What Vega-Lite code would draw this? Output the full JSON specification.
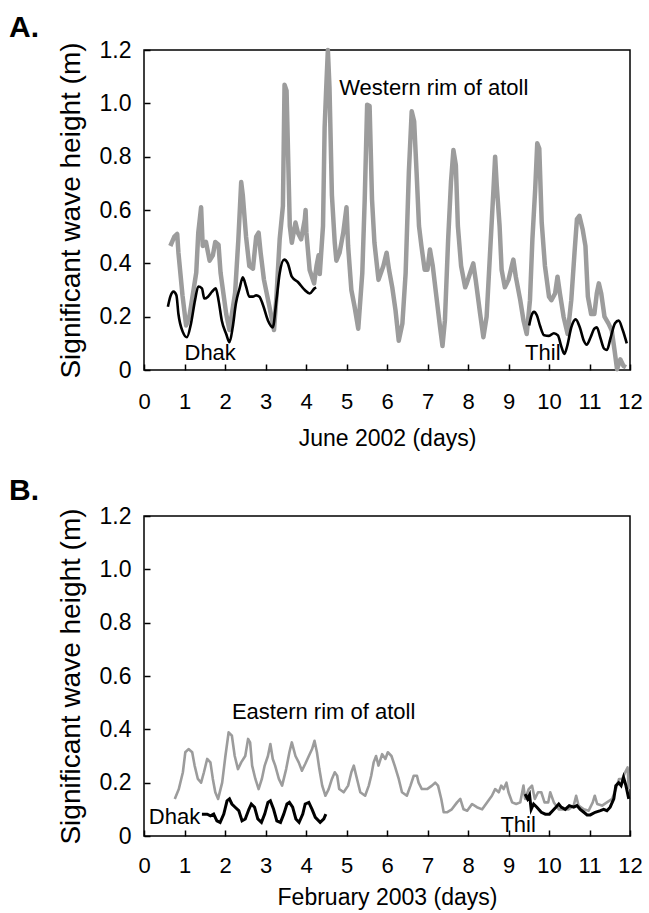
{
  "$schema": "https://vega.github.io/schema/vega-lite/v6.json",
  "background": "white",
  "padding": {"left": 8, "top": 12, "right": 20, "bottom": 0},
  "spacing": 24,
  "datasets": {
    "A": [
      {"s":"west","d":0.65,"h":0.465},{"s":"west","d":0.75,"h":0.50},{"s":"west","d":0.82,"h":0.51},{"s":"west","d":0.85,"h":0.44},{"s":"west","d":0.95,"h":0.28},{"s":"west","d":1.04,"h":0.167},{"s":"west","d":1.12,"h":0.20},{"s":"west","d":1.29,"h":0.365},{"s":"west","d":1.34,"h":0.515},{"s":"west","d":1.41,"h":0.61},{"s":"west","d":1.45,"h":0.465},{"s":"west","d":1.53,"h":0.48},{"s":"west","d":1.62,"h":0.41},{"s":"west","d":1.70,"h":0.43},{"s":"west","d":1.76,"h":0.48},{"s":"west","d":1.84,"h":0.47},{"s":"west","d":1.89,"h":0.365},{"s":"west","d":2.03,"h":0.21},{"s":"west","d":2.11,"h":0.15},{"s":"west","d":2.25,"h":0.29},{"s":"west","d":2.33,"h":0.49},{"s":"west","d":2.40,"h":0.705},{"s":"west","d":2.44,"h":0.655},{"s":"west","d":2.52,"h":0.50},{"s":"west","d":2.60,"h":0.39},{"s":"west","d":2.69,"h":0.38},{"s":"west","d":2.77,"h":0.50},{"s":"west","d":2.83,"h":0.515},{"s":"west","d":2.88,"h":0.44},{"s":"west","d":2.96,"h":0.34},{"s":"west","d":3.10,"h":0.235},{"s":"west","d":3.21,"h":0.15},{"s":"west","d":3.27,"h":0.275},{"s":"west","d":3.35,"h":0.49},{"s":"west","d":3.43,"h":0.615},{"s":"west","d":3.47,"h":1.07},{"s":"west","d":3.52,"h":1.047},{"s":"west","d":3.60,"h":0.54},{"s":"west","d":3.65,"h":0.477},{"s":"west","d":3.74,"h":0.553},{"s":"west","d":3.80,"h":0.515},{"s":"west","d":3.88,"h":0.49},{"s":"west","d":3.97,"h":0.565},{"s":"west","d":3.99,"h":0.60},{"s":"west","d":4.01,"h":0.515},{"s":"west","d":4.09,"h":0.375},{"s":"west","d":4.20,"h":0.325},{"s":"west","d":4.26,"h":0.39},{"s":"west","d":4.31,"h":0.43},{"s":"west","d":4.34,"h":0.36},{"s":"west","d":4.42,"h":0.54},{"s":"west","d":4.46,"h":0.91},{"s":"west","d":4.50,"h":1.06},{"s":"west","d":4.54,"h":1.20},{"s":"west","d":4.58,"h":1.06},{"s":"west","d":4.64,"h":0.655},{"s":"west","d":4.71,"h":0.477},{"s":"west","d":4.75,"h":0.41},{"s":"west","d":4.83,"h":0.44},{"s":"west","d":4.92,"h":0.515},{"s":"west","d":5.00,"h":0.61},{"s":"west","d":5.04,"h":0.465},{"s":"west","d":5.12,"h":0.30},{"s":"west","d":5.20,"h":0.237},{"s":"west","d":5.29,"h":0.155},{"s":"west","d":5.39,"h":0.363},{"s":"west","d":5.45,"h":0.64},{"s":"west","d":5.51,"h":0.995},{"s":"west","d":5.57,"h":0.99},{"s":"west","d":5.63,"h":0.64},{"s":"west","d":5.69,"h":0.477},{"s":"west","d":5.79,"h":0.338},{"s":"west","d":5.91,"h":0.39},{"s":"west","d":5.99,"h":0.44},{"s":"west","d":6.05,"h":0.376},{"s":"west","d":6.13,"h":0.31},{"s":"west","d":6.21,"h":0.224},{"s":"west","d":6.29,"h":0.11},{"s":"west","d":6.38,"h":0.174},{"s":"west","d":6.46,"h":0.363},{"s":"west","d":6.54,"h":0.743},{"s":"west","d":6.61,"h":0.97},{"s":"west","d":6.67,"h":0.933},{"s":"west","d":6.73,"h":0.743},{"s":"west","d":6.79,"h":0.54},{"s":"west","d":6.85,"h":0.465},{"s":"west","d":6.93,"h":0.376},{"s":"west","d":7.00,"h":0.376},{"s":"west","d":7.06,"h":0.452},{"s":"west","d":7.13,"h":0.39},{"s":"west","d":7.22,"h":0.275},{"s":"west","d":7.31,"h":0.16},{"s":"west","d":7.37,"h":0.09},{"s":"west","d":7.43,"h":0.186},{"s":"west","d":7.51,"h":0.49},{"s":"west","d":7.58,"h":0.705},{"s":"west","d":7.64,"h":0.825},{"s":"west","d":7.70,"h":0.768},{"s":"west","d":7.75,"h":0.54},{"s":"west","d":7.83,"h":0.39},{"s":"west","d":7.93,"h":0.31},{"s":"west","d":7.97,"h":0.325},{"s":"west","d":8.05,"h":0.363},{"s":"west","d":8.13,"h":0.40},{"s":"west","d":8.19,"h":0.338},{"s":"west","d":8.30,"h":0.21},{"s":"west","d":8.38,"h":0.123},{"s":"west","d":8.46,"h":0.20},{"s":"west","d":8.54,"h":0.426},{"s":"west","d":8.63,"h":0.68},{"s":"west","d":8.67,"h":0.80},{"s":"west","d":8.71,"h":0.692},{"s":"west","d":8.78,"h":0.54},{"s":"west","d":8.83,"h":0.376},{"s":"west","d":8.91,"h":0.31},{"s":"west","d":9.00,"h":0.338},{"s":"west","d":9.08,"h":0.39},{"s":"west","d":9.12,"h":0.414},{"s":"west","d":9.18,"h":0.35},{"s":"west","d":9.29,"h":0.262},{"s":"west","d":9.37,"h":0.186},{"s":"west","d":9.45,"h":0.135},{"s":"west","d":9.53,"h":0.262},{"s":"west","d":9.59,"h":0.49},{"s":"west","d":9.66,"h":0.68},{"s":"west","d":9.71,"h":0.85},{"s":"west","d":9.76,"h":0.83},{"s":"west","d":9.82,"h":0.553},{"s":"west","d":9.90,"h":0.39},{"s":"west","d":10.00,"h":0.275},{"s":"west","d":10.06,"h":0.262},{"s":"west","d":10.15,"h":0.287},{"s":"west","d":10.21,"h":0.35},{"s":"west","d":10.27,"h":0.287},{"s":"west","d":10.36,"h":0.20},{"s":"west","d":10.46,"h":0.135},{"s":"west","d":10.55,"h":0.262},{"s":"west","d":10.63,"h":0.44},{"s":"west","d":10.69,"h":0.566},{"s":"west","d":10.75,"h":0.578},{"s":"west","d":10.83,"h":0.528},{"s":"west","d":10.90,"h":0.465},{"s":"west","d":10.96,"h":0.275},{"s":"west","d":11.04,"h":0.21},{"s":"west","d":11.12,"h":0.21},{"s":"west","d":11.18,"h":0.287},{"s":"west","d":11.23,"h":0.325},{"s":"west","d":11.29,"h":0.287},{"s":"west","d":11.37,"h":0.20},{"s":"west","d":11.47,"h":0.174},{"s":"west","d":11.55,"h":0.148},{"s":"west","d":11.62,"h":0.072},{"s":"west","d":11.68,"h":0.003},{"s":"west","d":11.76,"h":0.04},{"s":"west","d":11.84,"h":0.015},{"s":"west","d":11.90,"h":0.01},
      {"s":"dhak","d":0.59,"h":0.237},{"s":"dhak","d":0.65,"h":0.275},{"s":"dhak","d":0.73,"h":0.294},{"s":"dhak","d":0.80,"h":0.28},{"s":"dhak","d":0.85,"h":0.21},{"s":"dhak","d":0.96,"h":0.142},{"s":"dhak","d":1.06,"h":0.123},{"s":"dhak","d":1.16,"h":0.174},{"s":"dhak","d":1.26,"h":0.262},{"s":"dhak","d":1.34,"h":0.313},{"s":"dhak","d":1.43,"h":0.306},{"s":"dhak","d":1.49,"h":0.268},{"s":"dhak","d":1.58,"h":0.275},{"s":"dhak","d":1.68,"h":0.294},{"s":"dhak","d":1.77,"h":0.306},{"s":"dhak","d":1.84,"h":0.262},{"s":"dhak","d":1.92,"h":0.186},{"s":"dhak","d":2.03,"h":0.135},{"s":"dhak","d":2.11,"h":0.104},{"s":"dhak","d":2.19,"h":0.16},{"s":"dhak","d":2.27,"h":0.25},{"s":"dhak","d":2.36,"h":0.306},{"s":"dhak","d":2.44,"h":0.348},{"s":"dhak","d":2.52,"h":0.313},{"s":"dhak","d":2.60,"h":0.275},{"s":"dhak","d":2.69,"h":0.275},{"s":"dhak","d":2.77,"h":0.28},{"s":"dhak","d":2.85,"h":0.275},{"s":"dhak","d":2.94,"h":0.243},{"s":"dhak","d":3.06,"h":0.186},{"s":"dhak","d":3.18,"h":0.16},{"s":"dhak","d":3.27,"h":0.262},{"s":"dhak","d":3.35,"h":0.363},{"s":"dhak","d":3.46,"h":0.414},{"s":"dhak","d":3.55,"h":0.40},{"s":"dhak","d":3.65,"h":0.35},{"s":"dhak","d":3.80,"h":0.33},{"s":"dhak","d":3.97,"h":0.30},{"s":"dhak","d":4.09,"h":0.287},{"s":"dhak","d":4.21,"h":0.306},{"s":"dhak","d":4.25,"h":0.31},
      {"s":"thil","d":9.51,"h":0.167},{"s":"thil","d":9.57,"h":0.205},{"s":"thil","d":9.63,"h":0.218},{"s":"thil","d":9.70,"h":0.205},{"s":"thil","d":9.78,"h":0.165},{"s":"thil","d":9.88,"h":0.13},{"s":"thil","d":10.00,"h":0.128},{"s":"thil","d":10.12,"h":0.138},{"s":"thil","d":10.22,"h":0.13},{"s":"thil","d":10.30,"h":0.09},{"s":"thil","d":10.38,"h":0.06},{"s":"thil","d":10.45,"h":0.09},{"s":"thil","d":10.55,"h":0.16},{"s":"thil","d":10.66,"h":0.19},{"s":"thil","d":10.76,"h":0.16},{"s":"thil","d":10.86,"h":0.11},{"s":"thil","d":10.93,"h":0.095},{"s":"thil","d":11.02,"h":0.12},{"s":"thil","d":11.12,"h":0.155},{"s":"thil","d":11.18,"h":0.16},{"s":"thil","d":11.27,"h":0.12},{"s":"thil","d":11.36,"h":0.08},{"s":"thil","d":11.43,"h":0.075},{"s":"thil","d":11.52,"h":0.12},{"s":"thil","d":11.63,"h":0.175},{"s":"thil","d":11.72,"h":0.185},{"s":"thil","d":11.82,"h":0.15},{"s":"thil","d":11.92,"h":0.10}
    ],
    "B": [
      {"s":"east","d":0.76,"h":0.139},{"s":"east","d":0.86,"h":0.176},{"s":"east","d":0.96,"h":0.239},{"s":"east","d":1.02,"h":0.314},{"s":"east","d":1.10,"h":0.326},{"s":"east","d":1.19,"h":0.314},{"s":"east","d":1.25,"h":0.264},{"s":"east","d":1.33,"h":0.214},{"s":"east","d":1.41,"h":0.20},{"s":"east","d":1.48,"h":0.239},{"s":"east","d":1.56,"h":0.289},{"s":"east","d":1.64,"h":0.276},{"s":"east","d":1.70,"h":0.214},{"s":"east","d":1.76,"h":0.164},{"s":"east","d":1.83,"h":0.139},{"s":"east","d":1.93,"h":0.20},{"s":"east","d":2.01,"h":0.30},{"s":"east","d":2.09,"h":0.389},{"s":"east","d":2.17,"h":0.376},{"s":"east","d":2.24,"h":0.30},{"s":"east","d":2.32,"h":0.251},{"s":"east","d":2.40,"h":0.276},{"s":"east","d":2.50,"h":0.30},{"s":"east","d":2.57,"h":0.364},{"s":"east","d":2.62,"h":0.351},{"s":"east","d":2.67,"h":0.264},{"s":"east","d":2.75,"h":0.214},{"s":"east","d":2.83,"h":0.176},{"s":"east","d":2.91,"h":0.214},{"s":"east","d":2.98,"h":0.264},{"s":"east","d":3.06,"h":0.30},{"s":"east","d":3.12,"h":0.345},{"s":"east","d":3.18,"h":0.289},{"s":"east","d":3.24,"h":0.264},{"s":"east","d":3.33,"h":0.214},{"s":"east","d":3.41,"h":0.189},{"s":"east","d":3.51,"h":0.251},{"s":"east","d":3.59,"h":0.314},{"s":"east","d":3.65,"h":0.351},{"s":"east","d":3.74,"h":0.30},{"s":"east","d":3.82,"h":0.276},{"s":"east","d":3.90,"h":0.245},{"s":"east","d":3.98,"h":0.27},{"s":"east","d":4.07,"h":0.30},{"s":"east","d":4.15,"h":0.326},{"s":"east","d":4.21,"h":0.357},{"s":"east","d":4.27,"h":0.314},{"s":"east","d":4.33,"h":0.251},{"s":"east","d":4.40,"h":0.189},{"s":"east","d":4.48,"h":0.151},{"s":"east","d":4.56,"h":0.176},{"s":"east","d":4.64,"h":0.214},{"s":"east","d":4.71,"h":0.239},{"s":"east","d":4.77,"h":0.226},{"s":"east","d":4.82,"h":0.176},{"s":"east","d":4.93,"h":0.164},{"s":"east","d":5.04,"h":0.189},{"s":"east","d":5.12,"h":0.239},{"s":"east","d":5.18,"h":0.264},{"s":"east","d":5.24,"h":0.226},{"s":"east","d":5.34,"h":0.164},{"s":"east","d":5.46,"h":0.151},{"s":"east","d":5.55,"h":0.189},{"s":"east","d":5.61,"h":0.226},{"s":"east","d":5.67,"h":0.276},{"s":"east","d":5.73,"h":0.30},{"s":"east","d":5.79,"h":0.264},{"s":"east","d":5.88,"h":0.307},{"s":"east","d":5.96,"h":0.289},{"s":"east","d":6.02,"h":0.314},{"s":"east","d":6.11,"h":0.30},{"s":"east","d":6.19,"h":0.264},{"s":"east","d":6.29,"h":0.214},{"s":"east","d":6.37,"h":0.164},{"s":"east","d":6.49,"h":0.151},{"s":"east","d":6.58,"h":0.189},{"s":"east","d":6.66,"h":0.226},{"s":"east","d":6.74,"h":0.226},{"s":"east","d":6.78,"h":0.20},{"s":"east","d":6.86,"h":0.176},{"s":"east","d":6.99,"h":0.176},{"s":"east","d":7.11,"h":0.189},{"s":"east","d":7.19,"h":0.20},{"s":"east","d":7.26,"h":0.189},{"s":"east","d":7.34,"h":0.139},{"s":"east","d":7.40,"h":0.089},{"s":"east","d":7.48,"h":0.089},{"s":"east","d":7.60,"h":0.10},{"s":"east","d":7.73,"h":0.126},{"s":"east","d":7.81,"h":0.139},{"s":"east","d":7.89,"h":0.10},{"s":"east","d":7.98,"h":0.095},{"s":"east","d":8.10,"h":0.12},{"s":"east","d":8.22,"h":0.108},{"s":"east","d":8.35,"h":0.10},{"s":"east","d":8.47,"h":0.126},{"s":"east","d":8.59,"h":0.151},{"s":"east","d":8.67,"h":0.176},{"s":"east","d":8.76,"h":0.164},{"s":"east","d":8.82,"h":0.189},{"s":"east","d":8.88,"h":0.176},{"s":"east","d":8.95,"h":0.20},{"s":"east","d":9.00,"h":0.164},{"s":"east","d":9.09,"h":0.126},{"s":"east","d":9.19,"h":0.12},{"s":"east","d":9.29,"h":0.126},{"s":"east","d":9.37,"h":0.189},{"s":"east","d":9.41,"h":0.139},{"s":"east","d":9.50,"h":0.176},{"s":"east","d":9.58,"h":0.189},{"s":"east","d":9.65,"h":0.139},{"s":"east","d":9.73,"h":0.164},{"s":"east","d":9.81,"h":0.164},{"s":"east","d":9.89,"h":0.126},{"s":"east","d":9.98,"h":0.126},{"s":"east","d":10.03,"h":0.164},{"s":"east","d":10.12,"h":0.126},{"s":"east","d":10.24,"h":0.10},{"s":"east","d":10.36,"h":0.10},{"s":"east","d":10.49,"h":0.10},{"s":"east","d":10.61,"h":0.114},{"s":"east","d":10.67,"h":0.151},{"s":"east","d":10.73,"h":0.114},{"s":"east","d":10.86,"h":0.10},{"s":"east","d":10.98,"h":0.095},{"s":"east","d":11.08,"h":0.126},{"s":"east","d":11.13,"h":0.151},{"s":"east","d":11.19,"h":0.12},{"s":"east","d":11.31,"h":0.114},{"s":"east","d":11.43,"h":0.126},{"s":"east","d":11.56,"h":0.139},{"s":"east","d":11.65,"h":0.176},{"s":"east","d":11.73,"h":0.214},{"s":"east","d":11.81,"h":0.214},{"s":"east","d":11.88,"h":0.239},{"s":"east","d":11.94,"h":0.257},{"s":"east","d":11.97,"h":0.176},
      {"s":"dhak","d":1.43,"h":0.082},{"s":"dhak","d":1.56,"h":0.082},{"s":"dhak","d":1.64,"h":0.076},{"s":"dhak","d":1.72,"h":0.082},{"s":"dhak","d":1.80,"h":0.057},{"s":"dhak","d":1.88,"h":0.051},{"s":"dhak","d":1.97,"h":0.082},{"s":"dhak","d":2.05,"h":0.132},{"s":"dhak","d":2.11,"h":0.139},{"s":"dhak","d":2.17,"h":0.12},{"s":"dhak","d":2.25,"h":0.108},{"s":"dhak","d":2.34,"h":0.095},{"s":"dhak","d":2.42,"h":0.057},{"s":"dhak","d":2.50,"h":0.064},{"s":"dhak","d":2.59,"h":0.10},{"s":"dhak","d":2.65,"h":0.12},{"s":"dhak","d":2.73,"h":0.108},{"s":"dhak","d":2.81,"h":0.064},{"s":"dhak","d":2.90,"h":0.051},{"s":"dhak","d":2.98,"h":0.082},{"s":"dhak","d":3.06,"h":0.126},{"s":"dhak","d":3.12,"h":0.132},{"s":"dhak","d":3.20,"h":0.10},{"s":"dhak","d":3.28,"h":0.057},{"s":"dhak","d":3.37,"h":0.051},{"s":"dhak","d":3.45,"h":0.082},{"s":"dhak","d":3.53,"h":0.12},{"s":"dhak","d":3.59,"h":0.126},{"s":"dhak","d":3.67,"h":0.108},{"s":"dhak","d":3.75,"h":0.064},{"s":"dhak","d":3.83,"h":0.051},{"s":"dhak","d":3.92,"h":0.082},{"s":"dhak","d":3.98,"h":0.12},{"s":"dhak","d":4.07,"h":0.126},{"s":"dhak","d":4.15,"h":0.10},{"s":"dhak","d":4.23,"h":0.07},{"s":"dhak","d":4.35,"h":0.051},{"s":"dhak","d":4.44,"h":0.064},{"s":"dhak","d":4.49,"h":0.082},
      {"s":"thil","d":9.41,"h":0.157},{"s":"thil","d":9.47,"h":0.139},{"s":"thil","d":9.52,"h":0.154},{"s":"thil","d":9.56,"h":0.10},{"s":"thil","d":9.62,"h":0.12},{"s":"thil","d":9.70,"h":0.108},{"s":"thil","d":9.81,"h":0.089},{"s":"thil","d":9.91,"h":0.082},{"s":"thil","d":10.01,"h":0.082},{"s":"thil","d":10.09,"h":0.095},{"s":"thil","d":10.17,"h":0.108},{"s":"thil","d":10.24,"h":0.12},{"s":"thil","d":10.30,"h":0.108},{"s":"thil","d":10.40,"h":0.10},{"s":"thil","d":10.50,"h":0.114},{"s":"thil","d":10.61,"h":0.108},{"s":"thil","d":10.69,"h":0.114},{"s":"thil","d":10.77,"h":0.10},{"s":"thil","d":10.86,"h":0.089},{"s":"thil","d":10.94,"h":0.079},{"s":"thil","d":11.02,"h":0.079},{"s":"thil","d":11.14,"h":0.089},{"s":"thil","d":11.27,"h":0.095},{"s":"thil","d":11.35,"h":0.10},{"s":"thil","d":11.43,"h":0.095},{"s":"thil","d":11.51,"h":0.108},{"s":"thil","d":11.60,"h":0.139},{"s":"thil","d":11.65,"h":0.189},{"s":"thil","d":11.72,"h":0.20},{"s":"thil","d":11.78,"h":0.189},{"s":"thil","d":11.84,"h":0.22},{"s":"thil","d":11.90,"h":0.189},{"s":"thil","d":11.97,"h":0.139}
    ],
    "labA": [
      {"t":"Western rim of atoll","d":4.82,"h":1.03},
      {"t":"Dhak","d":1.0,"h":0.036},
      {"t":"Thil","d":9.41,"h":0.036}
    ],
    "labB": [
      {"t":"Eastern rim of atoll","d":2.17,"h":0.439},
      {"t":"Dhak","d":0.12,"h":0.045},
      {"t":"Thil","d":8.8,"h":0.015}
    ]
  },
  "vconcat": [
    {
      "width": 486,
      "height": 320,
      "title": {"text": "A.", "anchor": "start", "frame": "bounds", "fontSize": 30, "fontWeight": "bold", "font": "Liberation Sans", "color": "black", "offset": -4, "dx": -48},
      "encoding": {
        "x": {"field": "d", "type": "quantitative", "scale": {"domain": [0, 12], "nice": false},
              "axis": {"values": [0,1,2,3,4,5,6,7,8,9,10,11,12], "title": "June 2002 (days)"}},
        "y": {"field": "h", "type": "quantitative", "scale": {"domain": [0, 1.2], "nice": false},
              "axis": {"values": [0,0.2,0.4,0.6,0.8,1.0,1.2], "labelExpr": "datum.value == 0 ? '0' : format(datum.value, '.1f')", "title": "Significant wave height (m)"}}
      },
      "layer": [
        {"data": {"name": "A"}, "transform": [{"filter": "datum.s == 'west'"}],
         "mark": {"type": "line", "color": "#9c9c9c", "strokeWidth": 4.5, "strokeJoin": "round"}},
        {"data": {"name": "A"}, "transform": [{"filter": "datum.s != 'west'"}],
         "mark": {"type": "line", "color": "black", "strokeWidth": 2.6, "interpolate": "monotone"},
         "encoding": {"detail": {"field": "s"}}},
        {"data": {"name": "labA"},
         "mark": {"type": "text", "align": "left", "baseline": "alphabetic", "fontSize": 22, "font": "Liberation Sans", "color": "black"},
         "encoding": {"text": {"field": "t"}}}
      ]
    },
    {
      "width": 486,
      "height": 320,
      "title": {"text": "B.", "anchor": "start", "frame": "bounds", "fontSize": 30, "fontWeight": "bold", "font": "Liberation Sans", "color": "black", "offset": -1, "dx": -48},
      "encoding": {
        "x": {"field": "d", "type": "quantitative", "scale": {"domain": [0, 12], "nice": false},
              "axis": {"values": [0,1,2,3,4,5,6,7,8,9,10,11,12], "title": "February 2003 (days)", "labelPadding": 25, "titlePadding": 10}},
        "y": {"field": "h", "type": "quantitative", "scale": {"domain": [0, 1.2], "nice": false},
              "axis": {"values": [0,0.2,0.4,0.6,0.8,1.0,1.2], "labelExpr": "datum.value == 0 ? '0' : format(datum.value, '.1f')", "title": "Significant wave height (m)"}}
      },
      "layer": [
        {"data": {"name": "B"}, "transform": [{"filter": "datum.s == 'east'"}],
         "mark": {"type": "line", "color": "#9c9c9c", "strokeWidth": 2.6, "strokeJoin": "round"}},
        {"data": {"name": "B"}, "transform": [{"filter": "datum.s != 'east'"}],
         "mark": {"type": "line", "color": "black", "strokeWidth": 3},
         "encoding": {"detail": {"field": "s"}}},
        {"data": {"name": "labB"},
         "mark": {"type": "text", "align": "left", "baseline": "alphabetic", "fontSize": 22, "font": "Liberation Sans", "color": "black"},
         "encoding": {"text": {"field": "t"}}}
      ]
    }
  ],
  "config": {
    "font": "Liberation Sans",
    "view": {"stroke": "black", "strokeWidth": 1.5},
    "axis": {
      "grid": false, "domain": false,
      "tickColor": "black", "tickSize": -6, "tickWidth": 1.5,
      "labelColor": "black", "labelFont": "Liberation Sans",
      "titleColor": "black", "titleFontWeight": "normal", "titleFont": "Liberation Sans"
    },
    "axisX": {"labelPadding": 27, "labelFontSize": 22, "titleFontSize": 23, "titlePadding": 15, "labelFlush": false},
    "axisY": {"labelPadding": 19, "labelFontSize": 23, "titleFontSize": 28, "titlePadding": 14}
  }
}
